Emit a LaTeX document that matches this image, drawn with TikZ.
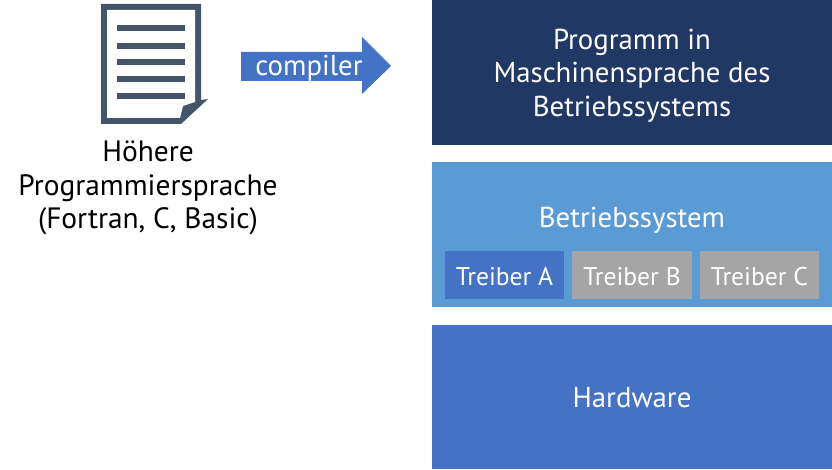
\documentclass[tikz,border=0pt]{standalone}
\usepackage{fontspec}
\setmainfont{PT Sans}
\definecolor{navy}{HTML}{1F3864}
\definecolor{lightb}{HTML}{5B9BD5}
\definecolor{midb}{HTML}{4472C4}
\definecolor{greyb}{HTML}{A5A5A5}
\definecolor{docc}{HTML}{44546A}
\tikzset{
  txt/.style={font=\fontsize{28.8}{33.5}\selectfont,align=center,inner sep=0pt},
  wtxt/.style={txt,text=white},
  btxt/.style={txt,text=black,font=\fontsize{29.4}{33.5}\selectfont},
  drv/.style={font=\fontsize{25.6}{28}\selectfont,text=white,inner sep=0pt},
  docline/.style={fill=docc},
}
\begin{document}
\begin{tikzpicture}[x=1pt,y=-1pt]
\useasboundingbox (0,0) rectangle (832,470);
% document icon
\fill[docc] (101,4) -- (201,4) -- (201,100) -- (208,99) -- (181,124) -- (101,124) -- cycle;
\fill[white] (107,10) -- (195,10) -- (195,102) -- (183,106) -- (180,118) -- (107,118) -- cycle;
\fill[docline] (117,25) rectangle (185,31);
\fill[docline] (117,43) rectangle (185,49);
\fill[docline] (117,59) rectangle (185,65);
\fill[docline] (117,76) rectangle (185,82);
\fill[docline] (117,93) rectangle (185,99);
\node[btxt] (hl) at (148,188) {Höhere\\Programmiersprache\\(Fortran, C, Basic)};
% arrow
\fill[midb] (241,52) -- (362,52) -- (362,37) -- (391,66) -- (362,94) -- (362,81) -- (241,81) -- cycle;
\node[wtxt] (comp) at (309,68.5) {compiler};
% stack
\fill[navy] (432,0) rectangle (832,145);
\node[wtxt] (prog) at (632,75.5) {Programm in\\Maschinensprache des\\Betriebssystems};
\fill[lightb] (432,162) rectangle (832,307);
\node[wtxt] (bs) at (632,220.5) {Betriebssystem};
\fill[midb] (445,251) rectangle (564,299);
\node[drv] (ta) at (504.5,277) {Treiber A};
\fill[greyb] (572,251) rectangle (692,299);
\node[drv] (tb) at (632,277) {Treiber B};
\fill[greyb] (700,251) rectangle (819,299);
\node[drv] (tc) at (759.5,277) {Treiber C};
\fill[midb] (432,325) rectangle (832,469);
\node[wtxt] (hw) at (632,398) {Hardware};
\end{tikzpicture}
\end{document}
